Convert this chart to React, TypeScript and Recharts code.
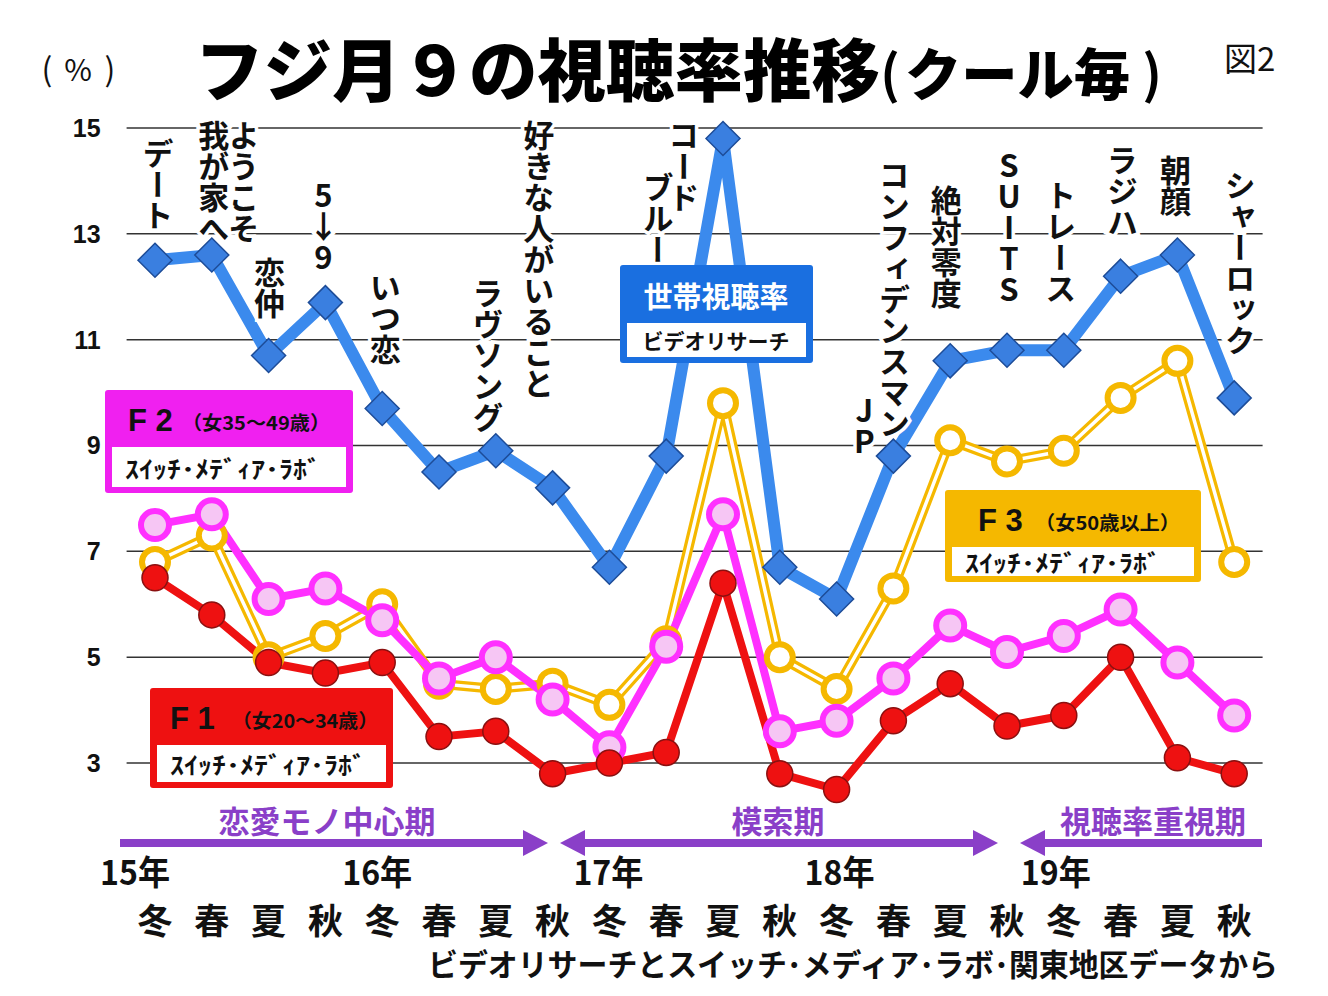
import React from "react";
import { ComposedChart, Line, XAxis, YAxis, ReferenceLine, LabelList } from "recharts";

const years = ["15年", "16年", "17年", "18年", "19年"];
const seasons = ["冬", "春", "夏", "秋"];

// 世帯視聴率（ビデオリサーチ）
const household = [12.5, 12.6, 10.7, 11.7, 9.7, 8.5, 8.9, 8.2, 6.7, 8.8, 14.8, 6.7, 6.1, 8.8, 10.6, 10.8, 10.8, 12.2, 12.6, 9.9];
// F1 女20～34歳
const f1 = [6.5, 5.8, 4.9, 4.7, 4.9, 3.5, 3.6, 2.8, 3.0, 3.2, 6.4, 2.8, 2.5, 3.8, 4.5, 3.7, 3.9, 5.0, 3.1, 2.8];
// F2 女35～49歳
const f2 = [7.5, 7.7, 6.1, 6.3, 5.7, 4.6, 5.0, 4.2, 3.3, 5.2, 7.7, 3.6, 3.8, 4.6, 5.6, 5.1, 5.4, 5.9, 4.9, 3.9];
// F3 女50歳以上
const f3 = [6.8, 7.3, 5.0, 5.4, 6.0, 4.5, 4.4, 4.5, 4.1, 5.3, 9.8, 5.0, 4.4, 6.3, 9.1, 8.7, 8.9, 9.9, 10.6, 6.8];

// drama titles per cour, "|" splits columns (right column first)
const titles = [
  "デート", "ようこそ|我が家へ", "恋仲", "5↓9",
  "いつ恋", "ラヴソング", "好きな人がいること", "",
  "", "", "コード|ブルー", "",
  "", "コンフィデンスマン|JP", "絶対零度", "SUITS",
  "トレース", "ラジハ", "朝顔", "シャーロック",
];

const yTicks = [3, 5, 7, 9, 11, 13, 15];

// placement of the title columns: [dx from point, top y]
const titleLayout: Record<number, [number, number][]> = {
  0: [[3, 138]],
  1: [[32, 120], [2, 120]],
  2: [[1, 257]],
  3: [[-2, 180]],
  4: [[3, 272]],
  5: [[49, 278]],
  6: [[43, 120]],
  10: [[-39, 120], [-65, 172]],
  13: [[1, 160], [-29, 395]],
  14: [[-4, 185]],
  15: [[2, 150]],
  16: [[-3, 180]],
  17: [[2, 145]],
  18: [[-2, 155]],
  19: [[6, 170]],
};
const yearDx = [-20, -5, -1, 3, -8];

const data = household.map((v, i) => ({
  key: years[Math.floor(i / 4)] + seasons[i % 4],
  season: seasons[i % 4],
  hh: v,
  f1: f1[i],
  f2: f2[i],
  f3: f3[i],
  title: titles[i],
}));

const JP = "'Noto Sans CJK JP', 'Noto Sans', sans-serif";
const LAT = "'Liberation Sans', Arial, sans-serif";
const PURPLE = "#8a3fc8";

const Diamond = (props: any) => {
  const { cx, cy } = props;
  if (cx == null || cy == null) return null;
  const r = 17;
  return (
    <polygon
      points={`${cx},${cy - r} ${cx + r},${cy} ${cx},${cy + r} ${cx - r},${cy}`}
      fill="#3a7fe0"
      stroke="#1d4c98"
      strokeWidth={1.5}
    />
  );
};

const SeasonTick = (props: any) => {
  const { x, y, index, payload } = props;
  const season = data[index] ? data[index].season : payload.value;
  return (
    <g>
      <text x={x} y={y + 102} textAnchor="middle" dominantBaseline="central" fontSize={35} fontWeight="bold" fontFamily={JP} fill="#111">
        {season}
      </text>
      {index % 4 === 0 && (
        <text
          x={x + yearDx[index / 4]}
          y={y + 54}
          textAnchor="middle"
          dominantBaseline="central"
          fontSize={34}
          fontWeight="bold"
          fontFamily={JP}
          fill="#111"
          textLength={70}
          lengthAdjust="spacingAndGlyphs"
        >
          {years[index / 4]}
        </text>
      )}
    </g>
  );
};

const renderTitle = (props: any) => {
  const { x, index, value } = props;
  const cols = titleLayout[index];
  if (!value || !cols) return null;
  const parts = String(value).split("|");
  return (
    <g key={`t-${index}`}>
      {parts.map((p, j) => (
        <text
          key={j}
          x={x + cols[j][0]}
          y={cols[j][1]}
          fontSize={31}
          fontWeight="bold"
          fontFamily={JP}
          fill="#111"
          stroke="#fff"
          strokeWidth={7}
          paintOrder="stroke"
          style={{ writingMode: "vertical-rl", textOrientation: "upright" } as any}
        >
          {p}
        </text>
      ))}
    </g>
  );
};

const LegendBox = ({ x, y, w, h, color, head, sub, textX, subX, subLen }: any) => (
  <g>
    <rect x={x} y={y} width={w} height={h} fill={color} rx={3} />
    <rect x={x + 7} y={y + 57} width={w - 14} height={h - 63} fill="#fff" />
    <text x={textX} y={y + 30} dominantBaseline="central" fontSize={31} fontWeight="bold" fontFamily={LAT} fill="#111">
      {head}
    </text>
    <text x={subX} y={y + 31} dominantBaseline="central" fontSize={19} fontWeight="bold" fontFamily={JP} fill="#111" textLength={subLen} lengthAdjust="spacingAndGlyphs">
      {sub}
    </text>
    <text x={x + 20} y={y + 57 + (h - 63) / 2} dominantBaseline="central" fontSize={24} fontWeight="bold" fontFamily={JP} fill="#111" textLength={196} lengthAdjust="spacingAndGlyphs">
      ｽｲｯﾁ･ﾒﾃﾞｨｱ･ﾗﾎﾞ
    </text>
  </g>
);

const Overlay = () => (
  <svg width={1328} height={996} style={{ position: "absolute", left: 0, top: 0, pointerEvents: "none" }}>
    <g fontFamily={JP} fill="#111" textAnchor="middle" dominantBaseline="central">
      <text x={47} y={67} fontSize={32}>(</text>
      <text x={78} y={68} fontSize={30}>%</text>
      <text x={110} y={67} fontSize={32}>)</text>
    </g>
    <text x={195} y={66} dominantBaseline="central" fontSize={68} fontWeight={900} fontFamily={JP} fill="#000" textLength={685} lengthAdjust="spacingAndGlyphs">
      フジ月９の視聴率推移
    </text>
    <text x={890} y={70} textAnchor="middle" dominantBaseline="central" fontSize={52} fontWeight="bold" fontFamily={JP} fill="#000">(</text>
    <text x={905} y={70} dominantBaseline="central" fontSize={56} fontWeight={900} fontFamily={JP} fill="#000" textLength={225} lengthAdjust="spacingAndGlyphs">
      クール毎
    </text>
    <text x={1152} y={70} textAnchor="middle" dominantBaseline="central" fontSize={52} fontWeight="bold" fontFamily={JP} fill="#000">)</text>
    <text x={1224} y={57} dominantBaseline="central" fontSize={33} fontFamily={JP} fill="#111">図2</text>

    {/* 世帯視聴率 */}
    <rect x={620} y={265} width={193} height={98} fill="#1a6fe0" rx={3} />
    <rect x={627} y={323} width={179} height={34} fill="#fff" />
    <text x={716} y={295} textAnchor="middle" dominantBaseline="central" fontSize={29} fontWeight="bold" fontFamily={JP} fill="#fff">世帯視聴率</text>
    <text x={716} y={340} textAnchor="middle" dominantBaseline="central" fontSize={21} fontWeight="bold" fontFamily={JP} fill="#111">ビデオリサーチ</text>

    <LegendBox x={105} y={390} w={248} h={103} color="#f020f0" head="F 2" sub="（女35～49歳）" textX={128} subX={182} subLen={148} />
    <LegendBox x={150} y={688} w={243} h={100} color="#ee1111" head="F 1" sub="（女20～34歳）" textX={170} subX={232} subLen={146} />
    <LegendBox x={945} y={490} w={256} h={92} color="#f5b800" head="F 3" sub="（女50歳以上）" textX={978} subX={1035} subLen={145} />

    {/* periods */}
    <g fill={PURPLE}>
      <rect x={120} y={839} width={406} height={8} />
      <polygon points="523,830 548,843 523,856" />
      <polygon points="585,830 560,843 585,856" />
      <rect x={583} y={839} width={392} height={8} />
      <polygon points="973,830 998,843 973,856" />
      <polygon points="1045,830 1020,843 1045,856" />
      <rect x={1043} y={839} width={219} height={8} />
    </g>
    <g fontSize={31} fontWeight="bold" fontFamily={JP} fill={PURPLE} textAnchor="middle" dominantBaseline="central">
      <text x={327} y={819}>恋愛モノ中心期</text>
      <text x={778} y={819}>模索期</text>
      <text x={1153} y={819}>視聴率重視期</text>
    </g>

    <text x={1278} y={962} textAnchor="end" dominantBaseline="central" fontSize={31} fontWeight="bold" fontFamily={JP} fill="#111" textLength={850} lengthAdjust="spacingAndGlyphs">
      ビデオリサーチとスイッチ･メディア･ラボ･関東地区データから
    </text>
  </svg>
);

export default function App() {
  return (
    <div style={{ position: "absolute", left: 0, top: 0, width: 1328, height: 996, background: "#fff" }}>
      <ComposedChart
        width={1328}
        height={996}
        data={data}
        margin={{ top: 101.5, right: 65.4, bottom: 60, left: 16.6 }}
      >
        <XAxis
          dataKey="key"
          height={120}
          axisLine={false}
          tickLine={false}
          tickSize={0}
          tickMargin={0}
          interval={0}
          padding={{ left: 28.4, right: 28.4 }}
          tick={SeasonTick}
        />
        <YAxis
          type="number"
          domain={[2, 15.5]}
          ticks={yTicks}
          width={110}
          axisLine={false}
          tickLine={false}
          tickSize={0}
          tickMargin={26}
          tick={{ fontSize: 25, fontWeight: "bold", fontFamily: LAT, fill: "#111" }}
        />
        {yTicks.map((v) => (
          <ReferenceLine key={v} y={v} stroke="#333" strokeWidth={1.5} />
        ))}
        <Line dataKey="f3" stroke="#f5b800" strokeWidth={10} dot={false} activeDot={false} isAnimationActive={false} />
        <Line
          dataKey="f3"
          stroke="#fff"
          strokeWidth={3.5}
          dot={{ r: 13, fill: "#fff", stroke: "#f5b800", strokeWidth: 6 }}
          activeDot={false}
          isAnimationActive={false}
        />
        <Line
          dataKey="f2"
          stroke="#ff30ff"
          strokeWidth={8}
          dot={{ r: 14, fill: "#f6c6f4", stroke: "#ff30ff", strokeWidth: 6 }}
          activeDot={false}
          isAnimationActive={false}
        />
        <Line
          dataKey="f1"
          stroke="#ee1111"
          strokeWidth={8}
          dot={{ r: 13, fill: "#ee1111", stroke: "#8a1010", strokeWidth: 1.5 }}
          activeDot={false}
          isAnimationActive={false}
        />
        <Line dataKey="hh" stroke="#3b8aed" strokeWidth={12} dot={<Diamond />} activeDot={false} isAnimationActive={false}>
          <LabelList dataKey="title" content={renderTitle} />
        </Line>
      </ComposedChart>
      <Overlay />
    </div>
  );
}
